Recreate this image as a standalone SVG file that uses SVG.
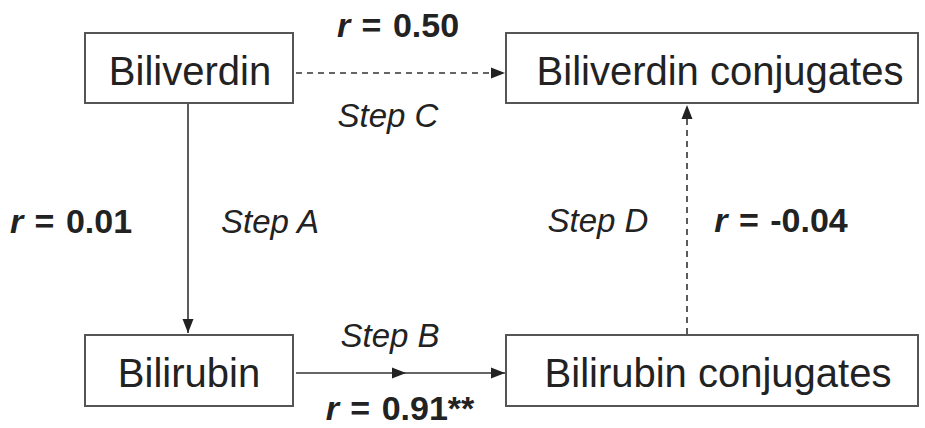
<svg xmlns="http://www.w3.org/2000/svg" width="925" height="428" viewBox="0 0 925 428">
<style>
.box{fill:#fff;stroke:#555;stroke-width:2}
.node{font-family:"Liberation Sans",Arial,sans-serif;font-size:40px;fill:#222;text-anchor:middle}
.step{font-family:"Liberation Sans",Arial,sans-serif;font-size:33px;font-style:italic;fill:#222;text-anchor:middle}
.r{font-family:"Liberation Sans",Arial,sans-serif;font-size:34px;font-weight:bold;fill:#222;text-anchor:middle;word-spacing:2px}
.line{fill:none;stroke:#333;stroke-width:1.6}
.dash{stroke-dasharray:6 5}
</style>
<defs>
<marker id="ah" markerUnits="userSpaceOnUse" markerWidth="16" markerHeight="14" refX="14" refY="7" orient="auto">
<path d="M0,1.5 L14,7 L0,12.5 Z" fill="#222"/>
</marker>
</defs>
<g id="connectors">
<path class="line dash" d="M296,73 L505,73" marker-end="url(#ah)"/>
<path class="line" d="M188,104 L188,333" marker-end="url(#ah)"/>
<path class="line" d="M296,373 L406,373 L505,373" marker-mid="url(#ah)" marker-end="url(#ah)"/>
<path class="line dash" d="M687,334 L687,105" marker-end="url(#ah)"/>
</g>
<g id="biliverdin">
<rect class="box" x="85" y="33" width="208" height="70"/>
<text class="node" x="190" y="85">Biliverdin</text>
</g>
<g id="biliverdin-conjugates">
<rect class="box" x="506" y="33" width="412" height="70"/>
<text class="node" x="720" y="85">Biliverdin conjugates</text>
</g>
<g id="bilirubin">
<rect class="box" x="85" y="335" width="208" height="71"/>
<text class="node" x="189" y="387">Bilirubin</text>
</g>
<g id="bilirubin-conjugates">
<rect class="box" x="506" y="335" width="412" height="71"/>
<text class="node" x="718" y="387">Bilirubin conjugates</text>
</g>
<g id="labels">
<text class="r" x="398" y="37"><tspan font-style="italic">r</tspan> = 0.50</text>
<text class="step" x="388" y="127">Step C</text>
<text class="r" x="71" y="233"><tspan font-style="italic">r</tspan> = 0.01</text>
<text class="step" x="270" y="233">Step A</text>
<text class="step" x="598" y="232">Step D</text>
<text class="r" x="781" y="232"><tspan font-style="italic">r</tspan> = -0.04</text>
<text class="step" x="390" y="347">Step B</text>
<text class="r" x="400" y="420"><tspan font-style="italic">r</tspan> = 0.91**</text>
</g>
</svg>
